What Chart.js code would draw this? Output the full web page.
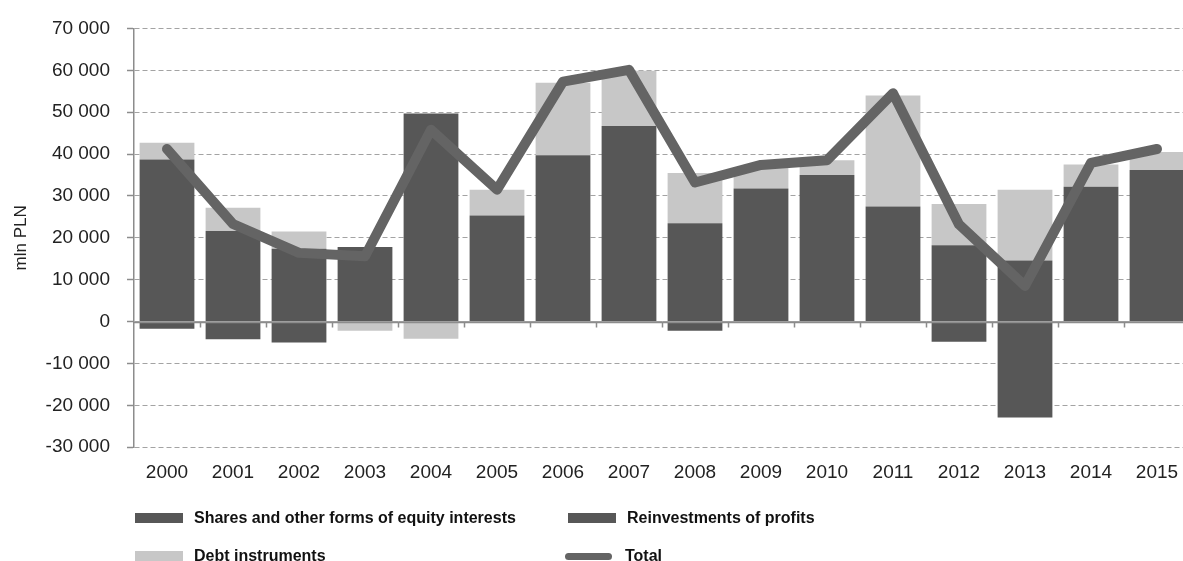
<!DOCTYPE html>
<html>
<head>
<meta charset="utf-8">
<script src="https://cdn.jsdelivr.net/npm/chart.js@4"></script>
<style>
  html, body { margin: 0; padding: 0; background: #fff; overflow: hidden; }
  #wrap { position: relative; width: 1183px; height: 561px; overflow: hidden; }
  #myChart { display: block; }
  #legend {
    position: absolute; left: 135px; top: 499px;
    display: grid; grid-template-columns: 433px auto; grid-auto-rows: 38px;
    font: bold 16px "Liberation Sans", Arial, sans-serif; color: #111;
  }
  #legend .item { display: flex; align-items: center; white-space: nowrap; }
  #legend .box { width: 48px; height: 10px; margin-right: 11px; }
  #legend .line { width: 47px; height: 7px; border-radius: 4px; margin-right: 13px; margin-left: -3px; }
</style>
</head>
<body>
<div id="wrap">
  <canvas id="myChart" width="1190" height="561"></canvas>
  <div id="legend"></div>
</div>
<script>
var years = ["2000","2001","2002","2003","2004","2005","2006","2007","2008","2009","2010","2011","2012","2013","2014","2015"];

// mln PLN
var shares   = [38700, 21600, 17400, 17800, 49700, 25300, 39700, 46700, 23500, 31800, 35000, 27500, 18200, 14600, 32200, 36200];
var reinvest = [-1700, -4200, -5000, 0, 0, 0, 0, 0, -2200, 0, 0, 0, -4800, -22900, 0, 0];
var debt     = [4000, 5600, 4100, -2200, -4100, 6200, 17300, 13200, 12000, 4900, 3500, 26500, 9900, 16900, 5300, 4300];
var total    = [41200, 23300, 16400, 15600, 45800, 31500, 57300, 60100, 33200, 37400, 38500, 54500, 23200, 8500, 37900, 41200];

var yTicks = [-30000, -20000, -10000, 0, 10000, 20000, 30000, 40000, 50000, 60000, 70000];

var DARK = '#575757', LIGHT = '#c7c7c7', LINE = '#646464', AXIS = '#8c8c8c';

function fmt(v){
    return String(v).replace(/\B(?=(\d{3})+(?!\d))/g, ' ');
}

// solid zero line with small marks between the years, drawn over the bars
var zeroLine = {
    id: 'zeroLine',
    afterDatasetsDraw: function(chart){
        var c = chart.ctx, x = chart.scales.x, y = chart.scales.y;
        var y0 = Math.round(y.getPixelForValue(0)) + 0.5;
        var step = x.getPixelForValue(1) - x.getPixelForValue(0);
        c.save();
        c.strokeStyle = AXIS;
        c.lineWidth = 1.5;
        c.beginPath();
        c.moveTo(chart.chartArea.left, y0);
        c.lineTo(chart.chartArea.right, y0);
        for (var i = 0; i < years.length; i++){
            var bx = Math.round(x.getPixelForValue(i) + step / 2) + 0.5;
            c.moveTo(bx, y0);
            c.lineTo(bx, y0 + 5);
        }
        c.stroke();
        c.restore();
    }
};

var ctx = document.getElementById("myChart").getContext("2d");
var myChart = new Chart(ctx, {
    type: 'bar',
    data: {
        labels: years,
        datasets: [
            {type: 'line', label: 'Total', data: total, borderColor: LINE, backgroundColor: LINE,
             borderWidth: 10, pointRadius: 0, borderCapStyle: 'round', borderJoinStyle: 'round',
             tension: 0, order: 0},
            {label: 'Shares and other forms of equity interests', data: shares, backgroundColor: DARK, order: 1},
            {label: 'Reinvestments of profits', data: reinvest, backgroundColor: DARK, order: 2},
            {label: 'Debt instruments', data: debt, backgroundColor: LIGHT, order: 3}
        ]
    },
    options: {
        responsive: false,
        animation: false,
        events: [],
        layout: {padding: {top: 27, right: 0, bottom: 71, left: 0}},
        datasets: {bar: {barPercentage: 0.83, categoryPercentage: 1}},
        plugins: {legend: {display: false}, tooltip: {enabled: false}},
        scales: {
            x: {
                stacked: true,
                grid: {display: false},
                border: {display: false},
                ticks: {color: '#222', font: {family: '"Liberation Sans", Arial', size: 19},
                        padding: 6, maxRotation: 0, autoSkip: false}
            },
            y: {
                stacked: true,
                min: -30000, max: 70000,
                afterBuildTicks: function(s){ s.ticks = yTicks.map(function(v){ return {value: v}; }); },
                afterFit: function(s){ s.width = 134; },
                grid: {color: '#a3a3a3', lineWidth: 1, tickLength: 7, tickColor: AXIS, tickWidth: 1.5},
                border: {display: true, color: AXIS, width: 1.5,
                         dash: function(c){ return c.tick && c.tick.value === 0 ? [] : [5, 3]; }},
                ticks: {color: '#222', font: {family: '"Liberation Sans", Arial', size: 19}, padding: 17,
                        callback: function(v){ return fmt(v); }},
                title: {display: true, text: 'mln PLN', color: '#222',
                        font: {family: '"Liberation Sans", Arial', size: 17}, padding: {top: 11, bottom: 0}}
            }
        }
    },
    plugins: [zeroLine]
});

// two-column legend under the plot
var legendOrder = [1, 2, 3, 0];
var legend = document.getElementById('legend');
legendOrder.forEach(function(i){
    var ds = myChart.data.datasets[i];
    var item = document.createElement('div');
    item.className = 'item';
    var sw = document.createElement('span');
    sw.className = ds.type === 'line' ? 'line' : 'box';
    sw.style.background = ds.type === 'line' ? ds.borderColor : ds.backgroundColor;
    item.appendChild(sw);
    item.appendChild(document.createTextNode(ds.label));
    legend.appendChild(item);
});
</script>
</body>
</html>
